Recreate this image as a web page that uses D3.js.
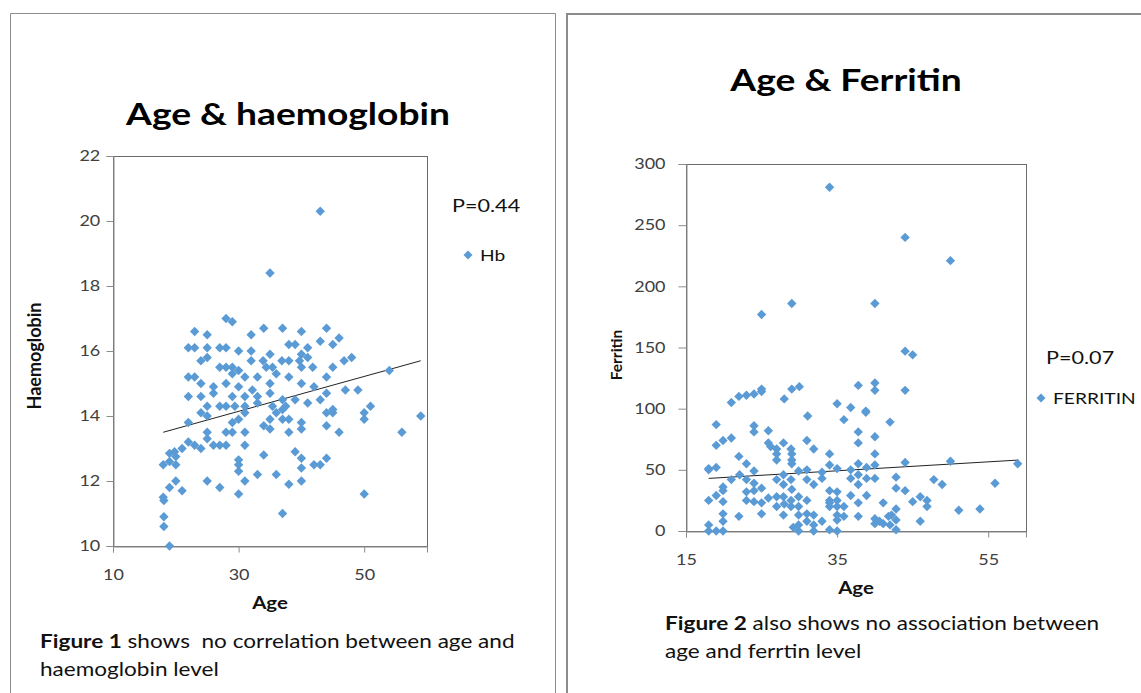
<!DOCTYPE html>
<html>
<head>
<meta charset="utf-8">
<script src="https://cdn.jsdelivr.net/npm/d3@7"></script>
<style>
  body { margin: 0; background: #fff; }
  text { font-family: Lato, "Open Sans", sans-serif; }
</style>
</head>
<body>
<script>
// Figure 1 data: age vs haemoglobin
var hbAge = [43,35,28,29,23,25,34,37,40,44,32,46,43,38,39,45,22,23,25,27,28,30,32,35,41,40,41,39.7,48,46.8,
  24,25,32,33.9,36.9,38,27,28,29,30,34.4,35.4,40,41.8,45,54,22,23,29,31,33,36,38,44,24,28,30,32.2,35,40,
  42,47,49,26,22,24,26,29,31,33,35,37,39,41,43,44,25,27,28,29.4,31,33,35.4,37.5,45,51,50,59,
  24,25,30,31,36,37,44,45,22,29,35,37,38,40,50,25,28,29,31,34,35,38,40,44,46,56,25,22,23,24,26,27,28,31,
  21,19.8,19,20,19,18,20,30,30,34,39,40,44,42,43,40,30,33,36,25,31,38,40,20,19,21,27,30,50,18,18.1,37,18.1,18.1,19];
var hbValue = [20.3,18.4,17.0,16.9,16.6,16.5,16.7,16.7,16.6,16.7,16.5,16.4,16.3,16.2,16.2,16.2,16.1,16.1,16.1,16.1,16.1,16.0,16.0,15.9,16.1,15.9,15.8,15.7,15.8,15.7,
  15.7,15.8,15.7,15.7,15.7,15.7,15.5,15.5,15.5,15.4,15.5,15.5,15.5,15.5,15.5,15.4,15.2,15.2,15.3,15.2,15.2,15.3,15.2,15.2,15.0,15.0,14.9,14.8,15.0,15.0,
  14.9,14.8,14.8,14.9,14.6,14.6,14.7,14.6,14.6,14.6,14.7,14.5,14.5,14.4,14.5,14.7,14.3,14.3,14.3,14.3,14.3,14.4,14.3,14.3,14.2,14.3,14.1,14.0,
  14.1,14.0,13.9,14.1,14.1,14.2,14.1,14.1,13.8,13.8,13.9,13.9,13.9,13.8,13.9,13.5,13.5,13.5,13.5,13.7,13.6,13.5,13.6,13.7,13.5,13.5,13.3,13.2,13.1,13.0,13.1,13.1,13.1,13.1,
  13.0,12.9,12.85,12.75,12.6,12.5,12.5,12.65,12.5,12.8,12.9,12.7,12.7,12.5,12.5,12.4,12.3,12.2,12.2,12.0,12.0,11.9,12.0,12.0,11.8,11.7,11.8,11.6,11.6,11.5,11.4,11.0,10.9,10.6,10.0];
var hbTrend = [[18, 13.5], [59, 15.7]];

// Figure 2 data: age vs ferritin
var feAge = [34,44,50,25,29,40,44,45,21,22,23,24,25,25,28,29,30,37.8,40,40,44,35,36.8,38.8,38.8,19,31.1,35.9,42,24,
  24,25.9,37.8,37.8,19,19.9,21,25.9,26.2,27.9,27,28.9,31,31.9,40,27,27,29,29,34,40,22,18,18,19,23,24,29,29.9,31,
  33,34,35,36.8,37.8,38.9,40,40,44,50,58.9,42.8,42.8,44,47.8,48.9,55.9,21,22.1,23,19.9,19.9,19,18,19.9,23,24,24,
  25,23,24,25,25.9,27,27.9,27.9,27,27.9,28.9,25,27,27.9,28.9,28.9,29.9,29.9,29.9,29.9,29.2,29.9,31,31,31.9,31.9,31.9,33,
  31,31.9,33,34,34,34,35,35,34,35,34,35,35,35.9,35.9,35,36.8,36.8,37.8,37.8,38.9,38.9,37.8,37.8,40,40,40.6,41.1,41.1,41.8,
  42.2,42.8,42.8,42.8,42,45,46,46.9,46.9,46,51.1,53.9,22,18,18,19,19.9,19.9,19.9,28,29,31];
var feValue = [281,240,221,177,186,186,147,144,105,110,111,112,114,116,108,116,118,119,121,115,115,104,101,98,97,87,94,91,89,86,
  81,82,81,72,70,74,76,72,69,72,67,67,74,67,77,63,58,58,63,63,63,61,51,50,52,55,49,55,49,50,
  48,54,51,50,55,52,54,43,56,57,55,44,35,33,42,38,39,42,46,42,36,33,29,25,24,32,39,33,
  35,25,24,23,27,28,38,28,42,46,42,14,20,13,25,20,28,20,13,5,3,0,14,8,13,0,5,8,
  42,38,43,33,25,23,32,25,20,20,1,0,13,20,12,9,29,43,46,38,43,29,23,12,10,6,8,23,6,12,
  13,9,18,1,5,24,28,25,20,8,17,18,12,5,0,0,0,8,14,22,34,25];
var feTrend = [[18, 43], [59, 58]];

var BLUE = "#5b9bd5";
// the original screenshot is a bit stretched sideways, so the text is too
var SX = 1.2;

var svg = d3.select("body").append("svg")
    .attr("width", 1141)
    .attr("height", 693);

// outer frames of the two figure boxes
svg.append("path")
    .attr("d", "M10.5,693 V13.5 H555.5 V693")
    .attr("fill", "none").attr("stroke", "#8c8c8c").attr("stroke-width", 1);
svg.append("path")
    .attr("d", "M567,693 V14 H1141")
    .attr("fill", "none").attr("stroke", "#8c8c8c").attr("stroke-width", 2);

// text placed with a horizontal stretch
function wideText(parent, str, x, y, size, anchor, sx) {
    return parent.append("text")
        .text(str)
        .attr("transform", "translate(" + x + "," + y + ") scale(" + sx + ",1)")
        .attr("text-anchor", anchor)
        .attr("font-size", size + "px");
}

// draws one excel-like scatter panel
function drawPanel(cfg) {
    var x = d3.scaleLinear().domain(cfg.xDomain).range([cfg.left, cfg.right]);
    var y = d3.scaleLinear().domain(cfg.yDomain).range([cfg.bottom, cfg.top]);

    var g = svg.append("g");

    // plot area border
    g.append("rect")
        .attr("x", cfg.left + 0.5).attr("y", cfg.top + 0.5)
        .attr("width", cfg.right - cfg.left).attr("height", cfg.bottom - cfg.top)
        .attr("fill", "none").attr("stroke", "#6b6b6b");

    var yAxis = d3.axisLeft(y).tickValues(cfg.yTicks).tickSize(cfg.tick).tickPadding(cfg.yPad);
    var xAxis = d3.axisBottom(x).tickValues(cfg.xTicks).tickSize(6).tickPadding(17);

    var ya = g.append("g")
        .attr("transform", "translate(" + (cfg.left + 0.5) + ",0)")
        .call(yAxis);
    var xa = g.append("g")
        .attr("transform", "translate(0," + (cfg.bottom + 0.5) + ")")
        .call(xAxis);
    [ya, xa].forEach(function(a) {
        a.select(".domain").attr("stroke", "#8c8c8c");
        a.selectAll(".tick line").attr("stroke", "#8c8c8c");
        a.selectAll("text")
            .attr("font-family", "Lato, sans-serif")
            .attr("font-size", "15px")
            .attr("fill", "#404040")
            .attr("transform", "scale(" + SX + ",1)");
    });

    // trend line
    g.append("path")
        .datum(cfg.trend)
        .attr("d", d3.line().x(function(d) { return x(d[0]); }).y(function(d) { return y(d[1]); }))
        .attr("fill", "none").attr("stroke", "#222").attr("stroke-width", 1);

    // diamond markers
    var diamond = d3.symbol().type(d3.symbolSquare).size(44);
    g.selectAll(".pt")
        .data(cfg.xs)
        .enter()
        .append("path")
        .attr("class", "pt")
        .attr("d", diamond)
        .attr("transform", function(d, i) {
            return "translate(" + x(d) + "," + y(cfg.ys[i]) + ") rotate(45)";
        })
        .attr("fill", BLUE);

    // titles
    wideText(g, cfg.title, cfg.titleX, cfg.titleY, 31, "middle", SX)
        .attr("font-weight", "bold").attr("fill", "#000");
    wideText(g, "Age", cfg.ageX, cfg.ageY, 17, "middle", SX)
        .attr("font-weight", "bold").attr("fill", "#111");
    g.append("text")
        .text(cfg.yLabel)
        .attr("transform", "translate(" + cfg.yLabelX + "," + cfg.yLabelY + ") rotate(-90)")
        .attr("text-anchor", "middle")
        .attr("font-size", cfg.yLabelSize + "px").attr("font-weight", "bold").attr("fill", "#111");

    // p value + legend
    wideText(g, cfg.pText, cfg.pX, cfg.pY, 18, "start", SX).attr("fill", "#111");
    g.append("path")
        .attr("d", d3.symbol().type(d3.symbolSquare).size(40))
        .attr("transform", "translate(" + cfg.legX + "," + cfg.legY + ") rotate(45)")
        .attr("fill", BLUE);
    wideText(g, cfg.series, cfg.legX + 12, cfg.legY + 6, 16, "start", SX).attr("fill", "#111");

    // caption below the chart
    cfg.caption.forEach(function(line, i) {
        var t = wideText(g, "", cfg.capX, cfg.capY + i * 28, 18.5, "start", 1.22)
            .attr("fill", "#111")
            .style("white-space", "pre");
        line.forEach(function(part) {
            t.append("tspan").text(part[0]).attr("font-weight", part[1] ? "bold" : "normal");
        });
    });
}

drawPanel({
    xs: hbAge, ys: hbValue, trend: hbTrend,
    xDomain: [10, 60], yDomain: [10, 22],
    xTicks: [10, 30, 50], yTicks: [10, 12, 14, 16, 18, 20, 22],
    left: 113, right: 427, top: 156, bottom: 546,
    tick: 7, yPad: 4,
    title: "Age & haemoglobin", titleX: 288, titleY: 125,
    ageX: 270, ageY: 609,
    yLabel: "Haemoglobin", yLabelX: 41, yLabelY: 356, yLabelSize: 18,
    pText: "P=0.44", pX: 452, pY: 212,
    series: "Hb", legX: 468, legY: 255,
    caption: [[["Figure 1", true], [" shows  no correlation between age and", false]],
              [["haemoglobin level", false]]],
    capX: 40, capY: 648
});

drawPanel({
    xs: feAge, ys: feValue, trend: feTrend,
    xDomain: [15, 60], yDomain: [0, 300],
    xTicks: [15, 35, 55], yTicks: [0, 50, 100, 150, 200, 250, 300],
    left: 686, right: 1026, top: 164, bottom: 531,
    tick: 8, yPad: 9.5,
    title: "Age & Ferritin", titleX: 846, titleY: 91,
    ageX: 856, ageY: 594,
    yLabel: "Ferritin", yLabelX: 622, yLabelY: 355, yLabelSize: 15.5,
    pText: "P=0.07", pX: 1046, pY: 364,
    series: "FERRITIN", legX: 1041, legY: 398,
    caption: [[["Figure 2", true], [" also shows no association between", false]],
              [["age and ferrtin level", false]]],
    capX: 665, capY: 630
});
</script>
</body>
</html>
